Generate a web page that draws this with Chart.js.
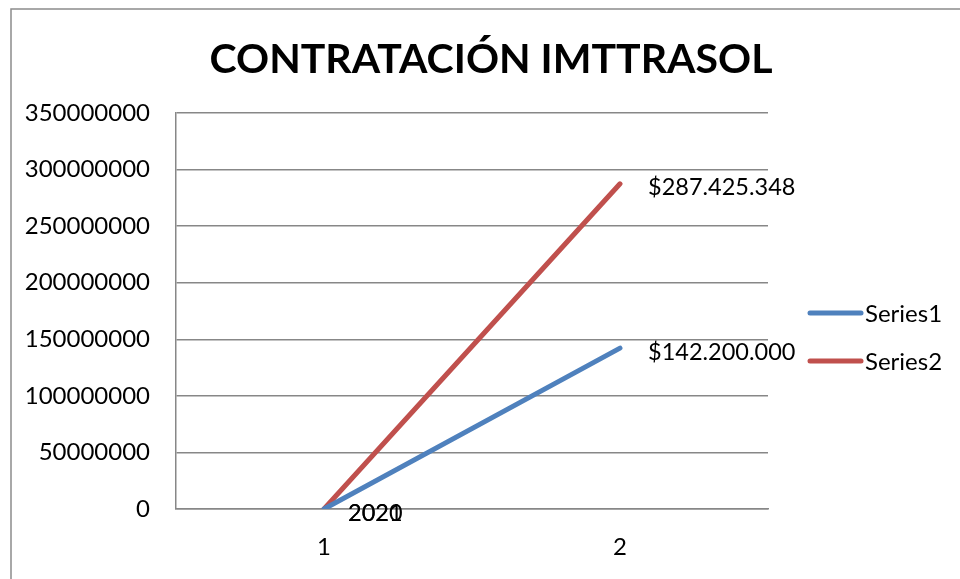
<!DOCTYPE html>
<html>
<head>
<meta charset="utf-8">
<script src="https://cdn.jsdelivr.net/npm/chart.js@4"></script>
<style>
  html, body { margin: 0; padding: 0; background: #fff; overflow: hidden; }
  #wrap { width: 960px; height: 579px; }
</style>
</head>
<body>
<div id="wrap"><canvas id="chart" width="960" height="579"></canvas></div>
<script>
// ─── Data ────────────────────────────────────────────────────────────────
const categories   = ['1', '2'];
const series1      = [2020, 142200000];
const series2      = [2021, 287425348];
const seriesNames  = ['Series1', 'Series2'];
const yTicks       = [0, 50000000, 100000000, 150000000, 200000000, 250000000, 300000000, 350000000];
const titleText    = 'CONTRATACIÓN IMTTRASOL';

const FONT   = 'Lato, "Open Sans", sans-serif';
const BLUE   = '#4F81BD';
const RED    = '#C0504D';
const GRID   = '#878787';

function fmtLabel(v) {
    if (v < 10000) return String(v);
    return '$' + Math.round(v).toString().replace(/\B(?=(\d{3})+(?!\d))/g, '.');
}

// ─── Outer frame + title ─────────────────────────────────────────────────
const framePlugin = {
    id: 'frame',
    beforeDraw(chart) {
        const c = chart.ctx;
        c.save();
        c.fillStyle = '#fff';
        c.fillRect(0, 0, chart.width, chart.height);
        c.strokeStyle = '#8c8c8c';
        c.lineWidth = 1.5;
        c.strokeRect(11, 9, 2000, 2000);
        c.font = 'bold 41px ' + FONT;
        c.fillStyle = '#000';
        c.textAlign = 'center';
        c.textBaseline = 'middle';
        c.fillText(titleText, 491, 60);
        c.restore();
    }
};

// ─── Data labels, right of each point ─────────────────────────────────────
const labelPlugin = {
    id: 'pointLabels',
    afterDatasetsDraw(chart) {
        const c = chart.ctx;
        c.save();
        c.font = '23.5px ' + FONT;
        c.fillStyle = '#000';
        c.textAlign = 'left';
        c.textBaseline = 'middle';
        chart.data.datasets.forEach((ds, i) => {
            chart.getDatasetMeta(i).data.forEach((pt, j) => {
                const dx = j === 0 ? 24 : 28;
                c.fillText(fmtLabel(ds.data[j]), pt.x + dx, pt.y + 4);
            });
        });
        c.restore();
    }
};

// ─── Legend on the right ─────────────────────────────────────────────────
const legendPlugin = {
    id: 'sideLegend',
    afterDraw(chart) {
        const c = chart.ctx;
        const items = [[seriesNames[0], BLUE, 313], [seriesNames[1], RED, 361]];
        c.save();
        c.font = '24px ' + FONT;
        c.textAlign = 'left';
        c.textBaseline = 'middle';
        items.forEach(([name, col, y]) => {
            c.strokeStyle = col;
            c.lineWidth = 5;
            c.lineCap = 'round';
            c.beginPath();
            c.moveTo(810, y);
            c.lineTo(861, y);
            c.stroke();
            c.fillStyle = '#000';
            c.fillText(name, 865, y + 1);
        });
        c.restore();
    }
};

new Chart(document.getElementById('chart'), {
    type: 'line',
    data: {
        labels: categories,
        datasets: [
            { label: seriesNames[0], data: series1, borderColor: BLUE, borderWidth: 5, pointRadius: 0, borderCapStyle: 'round' },
            { label: seriesNames[1], data: series2, borderColor: RED,  borderWidth: 5, pointRadius: 0, borderCapStyle: 'round' },
        ],
    },
    options: {
        responsive: false,
        animation: false,
        layout: { padding: { top: 113, right: 192, bottom: 0, left: 0 } },
        plugins: {
            legend: { display: false },
            tooltip: { enabled: false },
            title: { display: false },
        },
        scales: {
            x: {
                offset: true,
                grid: { display: false, drawTicks: false },
                border: { display: true, color: GRID, width: 1.5 },
                ticks: { color: '#000', font: { family: FONT, size: 24 }, padding: 24 },
                afterFit(s) { s.height = 70; },
            },
            y: {
                min: 0,
                max: 350000000,
                afterBuildTicks(s) { s.ticks = yTicks.map(v => ({ value: v })); },
                grid: { color: GRID, lineWidth: 1.5, drawTicks: false },
                border: { display: true, color: GRID, width: 1.5 },
                ticks: { color: '#000', font: { family: FONT, size: 24 }, padding: 26, callback: v => String(v) },
                afterFit(s) { s.width = 176; },
            },
        },
    },
    plugins: [framePlugin, labelPlugin, legendPlugin],
});
</script>
</body>
</html>
